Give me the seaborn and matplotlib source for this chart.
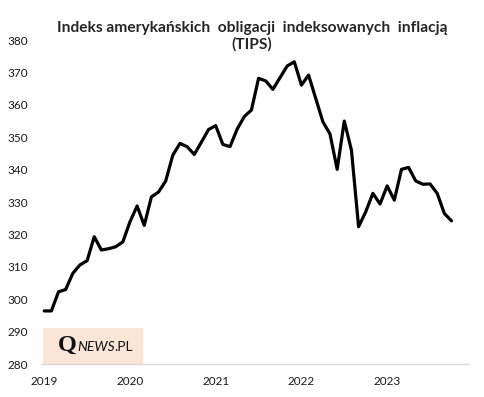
import numpy as np
import pandas as pd
import matplotlib
matplotlib.use("Agg")
import matplotlib.pyplot as plt
import seaborn as sns
from matplotlib.patches import Rectangle
from matplotlib.offsetbox import TextArea, HPacker, AnnotationBbox

# --------------------------------------------------
# Data: monthly TIPS index, Jan 2019 - Oct 2023
# --------------------------------------------------
values_2019 = [296.4, 296.4, 302.3, 303.0, 308.0, 310.6, 311.9, 319.3, 315.2, 315.6, 316.2, 317.7]
values_2020 = [323.9, 328.8, 322.8, 331.6, 333.1, 336.5, 344.5, 348.1, 347.1, 344.7, 348.5, 352.4]
values_2021 = [353.6, 347.8, 347.1, 352.5, 356.4, 358.4, 368.2, 367.4, 364.8, 368.4, 372.0, 373.3]
values_2022 = [366.1, 369.2, 362.0, 354.8, 351.0, 340.1, 355.0, 346.0, 322.4, 327.0, 332.7, 329.4]
values_2023 = [335.0, 330.6, 340.1, 340.7, 336.5, 335.5, 335.6, 332.7, 326.5, 324.2]

year_labels = ["2019", "2020", "2021", "2022", "2023"]
y_ticks = [280, 290, 300, 310, 320, 330, 340, 350, 360, 370, 380]

values = values_2019 + values_2020 + values_2021 + values_2022 + values_2023
df = pd.DataFrame({"month": np.arange(len(values)) + 0.5, "index": values})

# --------------------------------------------------
# Plot
# --------------------------------------------------
sns.set_theme(style="white")
plt.rcParams["font.family"] = ["Lato", "DejaVu Sans"]

fig = plt.figure(figsize=(4.84, 3.97), dpi=100)
ax = fig.add_axes([0.084, 0.083, 0.8857, 0.816])

sns.lineplot(data=df, x="month", y="index", color="black", linewidth=2.3, ax=ax)

ax.set_xlim(0, 60)
ax.set_ylim(280, 380)
ax.set_xlabel("")
ax.set_ylabel("")

# y axis: labels only
ax.set_yticks(y_ticks)
ax.set_yticklabels([str(t) for t in y_ticks])
ax.tick_params(axis="y", length=0, pad=9, labelsize=8.5, labelcolor="#1a1a1a")

# x axis: tick marks at year boundaries, labels at January
ax.set_xticks(np.arange(0, 61, 12))
ax.set_xticklabels([])
ax.set_xticks(np.arange(0, 60, 12) + 0.5, minor=True)
ax.set_xticklabels(year_labels, minor=True)
ax.tick_params(axis="x", which="major", length=3.3, width=1, color="#d9d9d9", direction="out")
ax.tick_params(axis="x", which="minor", length=0, pad=8.5, labelsize=8.5, labelcolor="#1a1a1a")

for side in ["left", "right", "top"]:
    ax.spines[side].set_visible(False)
ax.spines["bottom"].set_color("#d9d9d9")
ax.spines["bottom"].set_linewidth(1)
ax.grid(False)

fig.text(0.521, 0.908, "Indeks amerykańskich  obligacji  indeksowanych  inflacją\n(TIPS)",
         ha="center", va="center", fontsize=11.2, fontweight="bold", linespacing=1.2)

# logo box
ax.add_patch(Rectangle((0.005, 0.0), 0.2345, 0.11, transform=ax.transAxes,
                       facecolor="#fbe5d6", edgecolor="none", zorder=1))
q = TextArea("Q", textprops=dict(family="Liberation Serif", fontsize=17.5, fontweight="bold",
                                 color="#111111"))
news = TextArea("NEWS", textprops=dict(fontsize=10, style="italic", color="#111111"))
pl = TextArea(".PL", textprops=dict(fontsize=10, color="#111111"))
logo = HPacker(children=[q, news, pl], align="baseline", pad=0, sep=0)
ab = AnnotationBbox(logo, (0.128, 0.058), xycoords="axes fraction", frameon=False,
                    box_alignment=(0.5, 0.5), zorder=2)
ax.add_artist(ab)

fig.savefig("out.png", dpi=100)
